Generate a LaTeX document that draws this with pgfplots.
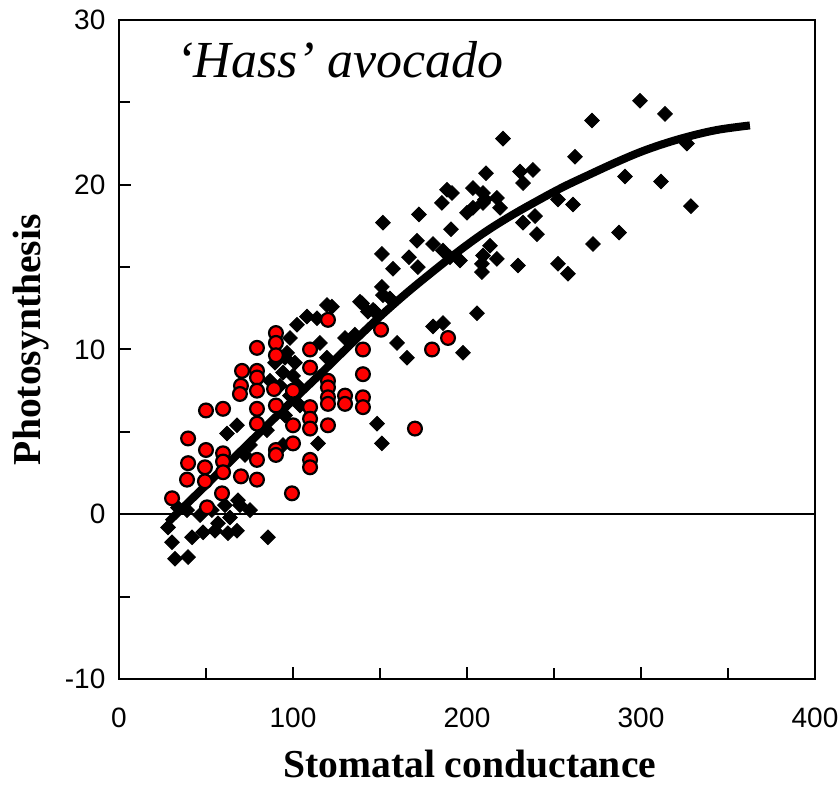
\documentclass[border=0pt]{standalone}
\usepackage{pgfplots}
\pgfplotsset{compat=1.18}
\usepackage{fontspec}
\setmainfont{Liberation Serif}
\newfontfamily\arial{Liberation Sans}
\begin{document}
\begin{tikzpicture}
\begin{axis}[
  scale only axis, width=348pt, height=329.5pt,
  xmin=0, xmax=400, ymin=-10, ymax=30,
  xtick={0,100,200,300,400}, ytick={-10,0,10,20,30},
  xticklabels={0,100,200,300,400}, yticklabels={-10,0,10,20,30},
  minor tick num=1,
  tick align=inside, xtick pos=bottom, ytick pos=left,
  major tick length=6pt, minor tick length=5.5pt,
  tick style={black, line width=1pt},
  axis line style={line width=1pt},
  ticklabel style={font=\fontsize{14}{16}\selectfont\arial},
  xticklabel style={anchor=base, yshift=-24.5pt},
  yticklabel style={xshift=-3.3pt},
  xlabel={Stomatal conductance},
  ylabel={Photosynthesis},
  label style={font=\fontsize{19.8}{22}\selectfont\bfseries},
  xlabel style={at={(axis description cs:0.504,-0.150)}, anchor=base},
  ylabel style={at={(axis description cs:-0.127,0.515)}, anchor=center, rotate=0},
  clip=false,
]
\addplot[black, line width=0.9pt, forget plot] coordinates {(0,0) (400,0)};
\addplot[only marks, mark=square*, mark size=2.6pt, mark options={rotate=45, fill=black, draw=black, line width=0.4pt}] coordinates {
(28.2,-0.8) (30.5,-1.7) (32.2,-2.7) (39.7,-2.6) (42.0,-1.4) (48.3,-1.1) (55.2,-1.0) (62.6,-1.15) (67.8,-1.0) (56.9,-0.55)
(68.4,0.85) (69.5,0.55) (33.9,0.4) (39.1,0.25) (85.6,-1.4) (67.8,5.4) (62.1,4.9) (46.6,-0.05) (53.4,0.25) (60.9,0.55)
(63.8,-0.2) (75.3,0.25) (119.5,12.7) (138.5,12.9) (143.0,12.3) (108.0,12.0) (102.3,11.5) (113.8,11.9) (115.5,10.4) (119.5,9.5)
(96.6,9.8) (114.4,4.3) (89.7,9.2) (95.4,9.5) (101.1,9.2) (94.3,8.6) (100.0,8.4) (92.5,7.8) (102.9,7.8) (98.3,7.2)
(86.8,8.1) (98.3,10.7) (129.9,10.7) (85.0,5.1) (95.4,6.0) (104.0,6.6) (75.3,4.2) (72.4,3.6) (94.3,4.2)
(151.7,17.7) (172.4,18.2) (185.6,18.9) (200.0,18.3) (203.4,18.6) (209.2,18.9) (190.8,17.3) (171.3,16.6) (180.5,16.4) (151.1,15.8)
(157.5,14.9) (166.7,15.6) (171.8,15.0) (186.2,16.0) (196.0,15.4) (208.6,14.7) (151.1,13.8) (139.7,12.8) (155.7,13.1) (147.1,12.3)
(205.7,12.2) (180.5,11.4) (186.2,11.6) (159.8,10.4) (165.5,9.5) (197.7,9.8) (135.6,10.9) (148.3,5.5) (151.1,4.3) (122.4,12.6)
(146.0,12.4) (151.7,13.3) (220.7,22.8) (262.1,21.7) (271.8,23.9) (290.8,20.5) (210.9,20.7) (230.5,20.8) (237.9,20.9) (232.2,20.1)
(203.4,19.8) (209.2,19.5) (210.3,19.1) (217.2,19.2) (219.0,18.6) (252.3,19.1) (260.9,18.8) (232.2,17.7) (239.1,18.1) (240.2,17.0)
(272.4,16.4) (287.4,17.1) (213.2,16.3) (209.2,15.7) (217.2,15.5) (208.6,15.2) (229.3,15.1) (252.3,15.2) (258.0,14.6)
(299.4,25.1) (313.8,24.3) (326.4,22.5) (311.5,20.2) (328.7,18.7) (188.5,19.7) (191.4,19.5) (190.2,15.6)
};
\addplot[only marks, mark=*, mark size=3.45pt, mark options={fill=red, draw=black, line width=1.1pt}] coordinates {
(30.5,0.97) (39.7,4.6) (39.7,3.1) (39.1,2.1) (50.0,6.3) (50.0,3.9) (49.4,2.85) (49.4,2.0) (50.6,0.42) (59.8,6.4)
(59.8,3.7) (59.8,3.2) (59.8,2.55) (59.2,1.27) (70.7,8.7) (70.1,7.8) (69.5,7.3) (70.1,2.3) (79.3,10.1) (79.3,8.7)
(79.3,8.3) (79.3,7.5) (79.3,6.4) (79.3,5.5) (79.3,3.3) (79.3,2.1) (90.2,11.0) (90.2,10.4) (90.2,9.65) (89.1,7.6)
(90.2,6.6) (90.2,3.9) (90.2,3.6) (100.0,7.5) (100.0,5.4) (100.0,4.3) (99.4,1.27) (109.8,10.0) (109.8,8.9) (109.8,6.5)
(109.8,5.8) (109.8,5.2) (109.8,3.3) (109.8,2.85) (120.1,11.8) (120.1,8.1) (120.1,7.7) (120.1,7.1) (120.1,6.7) (120.1,5.4)
(129.9,7.2) (129.9,6.7) (140.2,10.0) (140.2,8.5) (140.2,7.1) (140.2,6.5) (150.6,11.2) (170.1,5.2) (179.9,10.0) (189.1,10.7)
};
\addplot[black, line width=4pt, smooth, tension=0.6, line cap=butt] coordinates {
(28,-0.5) (45,1.25) (60,2.8) (75,4.35) (90,5.9) (105,7.43) (120,8.95) (135,10.5) (150,12.0) (165,13.4) (180,14.7) (195,15.95) (210,17.1) (225,18.1) (240,19.0) (255,19.85) (270,20.6) (285,21.33) (300,22.0) (315,22.55) (330,23.0) (345,23.35) (362.6,23.6)
};
\node[anchor=base west, font=\fontsize{26}{30}\selectfont\itshape] at (rel axis cs:0.072,0.912) {‘Hass’ avocado};
\end{axis}
\pgfresetboundingbox
\path (-59.5pt,-53.5pt) rectangle (360.5pt,339.5pt);
\end{tikzpicture}
\end{document}
